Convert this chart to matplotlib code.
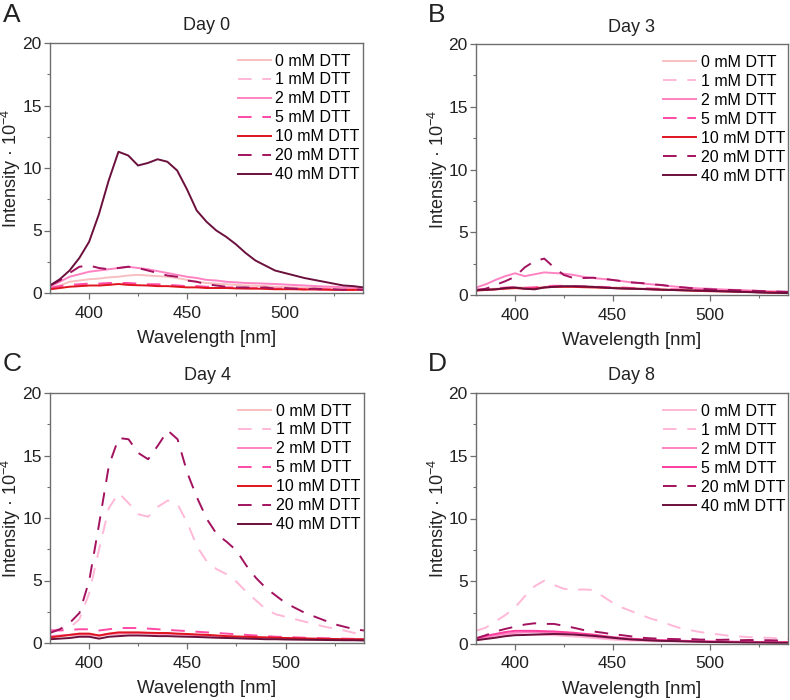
import numpy as np
import matplotlib as mpl
mpl.use('Agg')
import matplotlib.pyplot as plt
from matplotlib.ticker import MultipleLocator

plt.rcParams['font.family'] = ['Liberation Sans', 'DejaVu Sans']
plt.rcParams['mathtext.fontset'] = 'custom'
plt.rcParams['mathtext.rm'] = 'Liberation Sans'

# wavelength grid [nm]
wl = np.arange(380, 541, 5)

# ---- Day 0 ----
d0_0 = [0.37, 0.6, 0.9, 1.0, 1.1, 1.15, 1.25, 1.3, 1.4, 1.45, 1.4, 1.35, 1.3, 1.2, 1.05, 0.9, 0.8,
        0.75, 0.7, 0.65, 0.6, 0.58, 0.55, 0.5, 0.48, 0.45, 0.42, 0.4, 0.4, 0.38, 0.37, 0.35, 0.35]
d0_1 = [0.3, 0.4, 0.5, 0.55, 0.6, 0.6, 0.65, 0.7, 0.7, 0.7, 0.65, 0.6, 0.6, 0.55, 0.5, 0.5, 0.45,
        0.45, 0.4, 0.4, 0.4, 0.35, 0.35, 0.35, 0.3, 0.3, 0.3, 0.28, 0.28, 0.27, 0.26, 0.25, 0.25]
d0_2 = [0.5, 0.9, 1.3, 1.5, 1.7, 1.8, 1.9, 2.0, 2.1, 2.0, 1.9, 1.75, 1.6, 1.45, 1.3, 1.2, 1.05,
        1.0, 0.9, 0.85, 0.8, 0.78, 0.75, 0.72, 0.68, 0.64, 0.6, 0.56, 0.52, 0.5, 0.45, 0.4, 0.37]
d0_5 = [0.4, 0.55, 0.65, 0.7, 0.75, 0.75, 0.8, 0.8, 0.8, 0.75, 0.7, 0.7, 0.65, 0.6, 0.55, 0.55, 0.5,
        0.5, 0.45, 0.45, 0.4, 0.4, 0.4, 0.35, 0.35, 0.35, 0.3, 0.3, 0.3, 0.3, 0.25, 0.25, 0.25]
d0_10 = [0.3, 0.4, 0.5, 0.55, 0.6, 0.6, 0.65, 0.72, 0.65, 0.62, 0.6, 0.55, 0.55, 0.5, 0.45, 0.45, 0.4,
         0.4, 0.4, 0.37, 0.35, 0.35, 0.33, 0.3, 0.3, 0.3, 0.28, 0.28, 0.27, 0.25, 0.25, 0.25, 0.25]
d0_20 = [0.6, 1.0, 1.6, 2.1, 2.2, 2.0, 1.9, 2.0, 2.1, 2.0, 1.8, 1.6, 1.4, 1.3, 1.0, 0.9, 0.7,
         0.6, 0.5, 0.45, 0.45, 0.4, 0.45, 0.35, 0.4, 0.35, 0.3, 0.35, 0.3, 0.3, 0.25, 0.3, 0.25]
d0_40 = [0.6, 1.1, 1.8, 2.8, 4.1, 6.3, 9.0, 11.3, 11.0, 10.2, 10.4, 10.7, 10.5, 9.8, 8.3, 6.6, 5.7,
         5.0, 4.5, 3.9, 3.2, 2.6, 2.2, 1.8, 1.6, 1.4, 1.2, 1.05, 0.9, 0.75, 0.6, 0.55, 0.45]

# ---- Day 3 ----
d3_0 = [0.4, 0.45, 0.5, 0.55, 0.6, 0.6, 0.6, 0.65, 0.7, 0.7, 0.7, 0.68, 0.65, 0.62, 0.6, 0.58, 0.55,
        0.52, 0.5, 0.48, 0.45, 0.42, 0.4, 0.38, 0.35, 0.33, 0.3, 0.28, 0.26, 0.24, 0.22, 0.2, 0.2]
d3_1 = [0.45, 0.5, 0.55, 0.6, 0.65, 0.6, 0.62, 0.7, 0.75, 0.75, 0.72, 0.7, 0.68, 0.65, 0.62, 0.6, 0.57,
        0.55, 0.52, 0.5, 0.47, 0.44, 0.42, 0.4, 0.37, 0.35, 0.32, 0.3, 0.28, 0.26, 0.24, 0.22, 0.2]
d3_2 = [0.6, 0.85, 1.2, 1.5, 1.73, 1.5, 1.65, 1.8, 1.75, 1.7, 1.6, 1.45, 1.35, 1.28, 1.2, 1.1, 1.0,
        0.93, 0.85, 0.78, 0.7, 0.63, 0.57, 0.52, 0.5, 0.45, 0.42, 0.4, 0.36, 0.33, 0.3, 0.28, 0.25]
d3_5 = [0.42, 0.48, 0.52, 0.58, 0.62, 0.55, 0.6, 0.68, 0.72, 0.72, 0.7, 0.68, 0.66, 0.63, 0.6, 0.58, 0.55,
        0.53, 0.5, 0.48, 0.45, 0.43, 0.4, 0.38, 0.36, 0.34, 0.31, 0.29, 0.27, 0.25, 0.23, 0.21, 0.2]
d3_10 = [0.35, 0.4, 0.45, 0.5, 0.55, 0.5, 0.5, 0.6, 0.65, 0.65, 0.65, 0.62, 0.6, 0.58, 0.55, 0.52, 0.5,
         0.48, 0.45, 0.42, 0.4, 0.38, 0.35, 0.32, 0.3, 0.29, 0.28, 0.26, 0.25, 0.22, 0.2, 0.19, 0.18]
d3_20 = [0.35, 0.5, 0.8, 1.1, 1.45, 2.2, 2.7, 2.9, 2.2, 1.6, 1.35, 1.35, 1.38, 1.3, 1.2, 1.1, 1.0,
         0.95, 0.85, 0.8, 0.7, 0.62, 0.55, 0.5, 0.45, 0.42, 0.4, 0.37, 0.35, 0.32, 0.3, 0.27, 0.25]
d3_40 = [0.4, 0.42, 0.45, 0.55, 0.6, 0.5, 0.45, 0.6, 0.65, 0.7, 0.7, 0.68, 0.65, 0.6, 0.55, 0.52, 0.5,
         0.48, 0.45, 0.42, 0.4, 0.38, 0.36, 0.35, 0.33, 0.3, 0.28, 0.25, 0.23, 0.2, 0.18, 0.17, 0.15]

# ---- Day 4 ----
d4_0 = [0.5, 0.55, 0.6, 0.62, 0.65, 0.55, 0.7, 0.72, 0.75, 0.75, 0.75, 0.72, 0.7, 0.68, 0.65, 0.6, 0.55,
        0.52, 0.5, 0.47, 0.45, 0.42, 0.4, 0.39, 0.38, 0.36, 0.35, 0.34, 0.33, 0.32, 0.3, 0.3, 0.3]
d4_1 = [1.0, 1.1, 1.2, 1.9, 4.0, 7.5, 10.8, 12.0, 11.2, 10.3, 10.1, 10.9, 11.4, 11.1, 9.6, 7.7, 6.5,
        5.9, 5.5, 4.9, 4.1, 3.4, 2.7, 2.3, 2.1, 1.9, 1.7, 1.5, 1.3, 1.15, 1.0, 0.8, 0.65]
d4_2 = [0.55, 0.6, 0.65, 0.7, 0.7, 0.6, 0.72, 0.78, 0.8, 0.8, 0.78, 0.76, 0.74, 0.7, 0.68, 0.64, 0.6,
        0.56, 0.52, 0.5, 0.47, 0.44, 0.42, 0.4, 0.38, 0.37, 0.35, 0.34, 0.33, 0.32, 0.31, 0.3, 0.3]
d4_5 = [1.0, 1.0, 1.05, 1.1, 1.1, 1.0, 1.1, 1.2, 1.2, 1.2, 1.15, 1.1, 1.05, 1.0, 0.95, 0.9, 0.85,
        0.8, 0.75, 0.7, 0.65, 0.6, 0.55, 0.5, 0.48, 0.45, 0.42, 0.4, 0.38, 0.36, 0.35, 0.33, 0.32]
d4_10 = [0.45, 0.55, 0.65, 0.75, 0.75, 0.6, 0.75, 0.85, 0.85, 0.85, 0.82, 0.8, 0.8, 0.75, 0.72, 0.68, 0.65,
         0.6, 0.55, 0.52, 0.5, 0.47, 0.45, 0.42, 0.4, 0.38, 0.36, 0.34, 0.33, 0.32, 0.3, 0.3, 0.3]
d4_20 = [0.8, 1.1, 1.6, 2.4, 5.0, 9.5, 14.2, 16.4, 16.3, 15.2, 14.7, 15.8, 17.0, 16.3, 13.6, 11.6, 9.9,
         8.7, 8.1, 7.4, 6.2, 5.2, 4.4, 3.8, 3.2, 2.8, 2.4, 2.1, 1.8, 1.5, 1.3, 1.1, 1.0]
d4_40 = [0.3, 0.35, 0.4, 0.5, 0.5, 0.35, 0.5, 0.55, 0.6, 0.6, 0.58, 0.55, 0.55, 0.52, 0.5, 0.48, 0.45,
         0.42, 0.4, 0.38, 0.35, 0.33, 0.3, 0.3, 0.28, 0.27, 0.26, 0.25, 0.24, 0.23, 0.22, 0.22, 0.2]

# ---- Day 8 (no 10 mM sample) ----
d8_0 = [0.3, 0.45, 0.6, 0.7, 0.78, 0.78, 0.75, 0.72, 0.7, 0.65, 0.6, 0.55, 0.48, 0.42, 0.35, 0.3, 0.27,
        0.25, 0.22, 0.2, 0.2, 0.18, 0.17, 0.16, 0.15, 0.15, 0.14, 0.14, 0.13, 0.13, 0.12, 0.12, 0.12]
d8_1 = [1.05, 1.3, 1.8, 2.3, 2.9, 3.8, 4.6, 5.05, 4.7, 4.4, 4.3, 4.35, 4.3, 3.8, 3.3, 2.9, 2.6,
        2.3, 2.0, 1.8, 1.5, 1.25, 1.1, 0.95, 0.85, 0.75, 0.65, 0.6, 0.55, 0.5, 0.5, 0.45, 0.4]
d8_2 = [0.35, 0.55, 0.7, 0.82, 0.9, 0.95, 0.95, 0.92, 0.9, 0.85, 0.8, 0.7, 0.6, 0.52, 0.45, 0.4, 0.35,
        0.32, 0.3, 0.28, 0.26, 0.24, 0.22, 0.2, 0.2, 0.18, 0.18, 0.17, 0.16, 0.15, 0.15, 0.14, 0.14]
d8_5 = [0.45, 0.65, 0.8, 0.95, 1.05, 1.05, 1.05, 1.02, 1.0, 0.95, 0.9, 0.82, 0.75, 0.65, 0.55, 0.48, 0.42,
        0.38, 0.34, 0.3, 0.28, 0.26, 0.24, 0.22, 0.2, 0.19, 0.18, 0.17, 0.16, 0.15, 0.15, 0.14, 0.14]
d8_20 = [0.45, 0.7, 1.0, 1.2, 1.38, 1.55, 1.65, 1.6, 1.6, 1.45, 1.3, 1.12, 1.0, 0.9, 0.78, 0.7, 0.6,
         0.5, 0.45, 0.42, 0.4, 0.38, 0.4, 0.35, 0.35, 0.33, 0.35, 0.3, 0.32, 0.3, 0.3, 0.28, 0.3]
d8_40 = [0.3, 0.4, 0.5, 0.62, 0.7, 0.72, 0.75, 0.78, 0.8, 0.78, 0.75, 0.7, 0.65, 0.58, 0.5, 0.42, 0.36,
         0.32, 0.28, 0.25, 0.24, 0.22, 0.2, 0.18, 0.16, 0.15, 0.14, 0.13, 0.12, 0.12, 0.11, 0.1, 0.1]

labels7 = ['0 mM DTT', '1 mM DTT', '2 mM DTT', '5 mM DTT', '10 mM DTT', '20 mM DTT', '40 mM DTT']
labels6 = ['0 mM DTT', '1 mM DTT', '2 mM DTT', '5 mM DTT', '20 mM DTT', '40 mM DTT']

cols7 = ['#f7bfc0', '#ffb8d8', '#ff82c2', '#ff4aa6', '#e0141e', '#a3125e', '#6b0f3c']
dash7 = [False, True, False, True, False, True, False]
cols6 = ['#ffb8d8', '#ffb8d8', '#ff82c2', '#ff3d9e', '#a3125e', '#6b0f3c']
dash6 = [False, True, False, False, True, False]

panels = [
    ('A', 'Day 0', [d0_0, d0_1, d0_2, d0_5, d0_10, d0_20, d0_40], labels7, cols7, dash7),
    ('B', 'Day 3', [d3_0, d3_1, d3_2, d3_5, d3_10, d3_20, d3_40], labels7, cols7, dash7),
    ('C', 'Day 4', [d4_0, d4_1, d4_2, d4_5, d4_10, d4_20, d4_40], labels7, cols7, dash7),
    ('D', 'Day 8', [d8_0, d8_1, d8_2, d8_5, d8_20, d8_40], labels6, cols6, dash6),
]

# axes boxes in pixels (left, top, right, bottom) of a 790x700 figure
boxes = [(50, 43, 363, 293), (476, 44, 788, 295), (50, 393, 364, 643), (476, 393, 788, 644)]
letter_pos = [(3, 3), (428, 3), (3, 352), (428, 352)]

W, H = 790, 700
fig = plt.figure(figsize=(W / 100, H / 100), dpi=100)

spine_col = '#6e6e6e'
txt_col = '#222222'

for (letter, title, series, labels, cols, dashed), box, lp in zip(panels, boxes, letter_pos):
    l, t, r, b = box
    ax = fig.add_axes([l / W, 1 - b / H, (r - l) / W, (b - t) / H])
    for y, lab, c, d in zip(series, labels, cols, dashed):
        if d:
            ax.plot(wl, y, color=c, lw=1.4, dashes=(7, 5.5), label=lab)
        else:
            ax.plot(wl, y, color=c, lw=1.4, label=lab)
    ax.set_xlim(380, 540)
    ax.set_ylim(0, 20)
    ax.xaxis.set_major_locator(MultipleLocator(50))
    ax.xaxis.set_minor_locator(MultipleLocator(25))
    ax.yaxis.set_major_locator(MultipleLocator(5))
    ax.yaxis.set_minor_locator(MultipleLocator(2.5))
    ax.tick_params(which='major', direction='out', length=4, width=0.9, color=spine_col,
                   labelsize=12.5, labelcolor=txt_col, pad=2)
    ax.tick_params(axis='x', which='major', pad=5)
    ax.tick_params(which='minor', direction='out', length=2.5, width=0.8, color=spine_col)
    for sp in ax.spines.values():
        sp.set_color(spine_col)
        sp.set_linewidth(1.0)
    ax.set_xlabel('Wavelength [nm]', fontsize=13.4, color=txt_col, labelpad=7)
    ax.set_ylabel('Intensity · 10$^{\\mathrm{-4}}$', fontsize=13, color=txt_col)
    ax.yaxis.set_label_coords(-26.5 / (r - l), 0.5)
    ax.set_title(title, fontsize=13, color=txt_col, pad=9)
    ax.legend(loc='upper left', bbox_to_anchor=(0.60, 0.958), frameon=False, fontsize=11.5,
              handlelength=2.05, handletextpad=0.3, labelspacing=0.25, borderpad=0,
              borderaxespad=0)
    fig.text(lp[0] / W, 1 - lp[1] / H, letter, fontsize=19, color=txt_col, ha='left', va='top')

fig.savefig('out.png', dpi=100)
